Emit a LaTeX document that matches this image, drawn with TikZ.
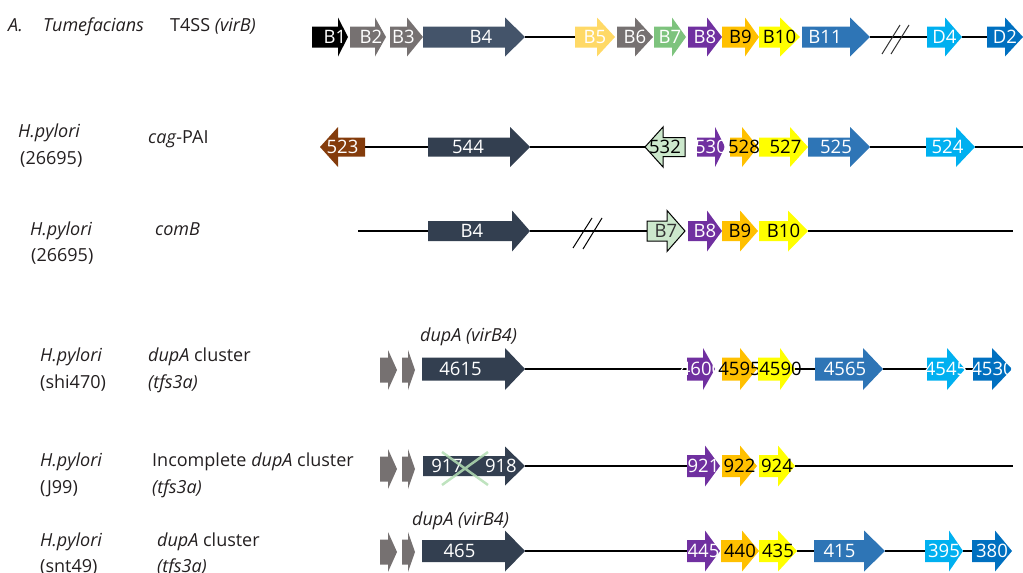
\documentclass[tikz,border=0pt]{standalone}
\usepackage{fontspec}
\setmainfont{Open Sans}
\usetikzlibrary{backgrounds}

\definecolor{cBlack}{HTML}{000000}
\definecolor{cGray}{HTML}{767171}
\definecolor{cNavyA}{HTML}{44546A}
\definecolor{cNavy}{HTML}{333F50}
\definecolor{cGold}{HTML}{FFD966}
\definecolor{cGreen}{HTML}{7DC37D}
\definecolor{cPurple}{HTML}{7030A0}
\definecolor{cOrange}{HTML}{FFC000}
\definecolor{cYellow}{HTML}{FFFF00}
\definecolor{cBlue}{HTML}{2E75B6}
\definecolor{cCyan}{HTML}{00B0F0}
\definecolor{cDeep}{HTML}{0070C0}
\definecolor{cBrown}{HTML}{843C0C}
\definecolor{cPale}{HTML}{CCE8CC}
\definecolor{cCross}{HTML}{B4DEB4}
\definecolor{cInk}{HTML}{231F20}

\newcommand\genefont{\fontsize{18.5}{22}\selectfont}
\newcommand\labelfont{\fontsize{18}{22}\selectfont}

\tikzset{
  geneframe/.style={inner sep=0pt, outer sep=0pt, draw=none},
  genelabel/.style={inner sep=0pt, font=\genefont},
  spine/.style={draw=black, line width=1.3pt},
  legend/.style={anchor=base west, inner sep=0pt, font=\labelfont, text=cInk},
  breakmark/.style={draw=black!80, line width=1pt},
  outlined/.style={fill=cPale, draw=black, line width=1pt},
}

% body and head half-heights of the gene arrows
\newcommand\gbh{10}
\newcommand\ghh{20}

% gene pointing right: name, start, head start, tip, y, fill style, label style, label
\newcommand\gener[8]{%
  \fill[#6] (#2,#5-\gbh) -- (#3,#5-\gbh) -- (#3,#5-\ghh) -- (#4,#5)
     -- (#3,#5+\ghh) -- (#3,#5+\gbh) -- (#2,#5+\gbh) -- cycle;
  \node[geneframe, minimum width={#4-#2}, minimum height={2*\ghh}] (#1) at ({(#2+#4)/2},#5) {};
  \node[genelabel,#7] (#1t) at (#1.center) {#8};
}
% gene pointing left: name, tip, head end, body end, y, fill style, label style, label
\newcommand\genel[8]{%
  \fill[#6] (#2,#5) -- (#3,#5-\ghh) -- (#3,#5-\gbh) -- (#4,#5-\gbh)
     -- (#4,#5+\gbh) -- (#3,#5+\gbh) -- (#3,#5+\ghh) -- cycle;
  \node[geneframe, minimum width={#4-#2}, minimum height={2*\ghh}] (#1) at ({(#2+#4)/2},#5) {};
  \node[genelabel,#7] (#1t) at (#1.center) {#8};
}

\begin{document}
\begin{tikzpicture}[x=1pt,y=-1pt]
\useasboundingbox (0,0) rectangle (1023,573);

% ---------------- organism / locus labels ----------------
\node[legend] (s1a) at (8,31) {\textit{A.}};
\node[legend] (s1b) at (43,31) {\textit{Tumefacians}};
\node[legend] (s1c) at (170,31) {T4SS \textit{(virB)}};

\node[legend] (s2a) at (18,137) {\textit{H.pylori}};
\node[legend] (s2b) at (20,164) {(26695)};
\node[legend] (s2c) at (148,143) {\textit{cag}-PAI};

\node[legend] (s3a) at (30,235) {\textit{H.pylori}};
\node[legend] (s3b) at (31,261) {(26695)};
\node[legend] (s3c) at (155,235) {\textit{comB}};

\node[legend] (s4a) at (40,361) {\textit{H.pylori}};
\node[legend] (s4b) at (40,388) {(shi470)};
\node[legend] (s4c) at (148,361) {\textit{dupA} cluster};
\node[legend] (s4d) at (148,388) {\textit{(tfs3a)}};
\node[legend] (s4e) at (420,341) {\textit{dupA (virB4)}};

\node[legend] (s5a) at (40,466) {\textit{H.pylori}};
\node[legend] (s5b) at (40,493) {(J99)};
\node[legend] (s5c) at (152,466) {Incomplete \textit{dupA} cluster};
\node[legend] (s5d) at (152,493) {\textit{(tfs3a)}};

\node[legend] (s6a) at (40,546) {\textit{H.pylori}};
\node[legend] (s6b) at (40,572) {(snt49)};
\node[legend] (s6c) at (157,546) {\textit{dupA} cluster};
\node[legend] (s6d) at (157,572) {\textit{(tfs3a)}};
\node[legend] (s6e) at (412,525) {\textit{dupA (virB4)}};

% ---------------- row 1: virB ----------------
\renewcommand\gbh{10.5}\renewcommand\ghh{19.5}
\gener{aB1}{312}{338}{348}{37}{cBlack}{text=white,xshift=5pt}{B1}
\gener{aB2}{350}{375}{386}{37}{cGray}{text=white,xshift=3pt}{B2}
\gener{aB3}{390}{407}{423}{37}{cGray}{text=white,xshift=-3pt}{B3}
\gener{aB4}{423}{505}{525}{37}{cNavyA}{text=white,xshift=7pt}{B4}
\gener{aB5}{575}{597}{615}{37}{cGold}{text=white}{B5}
\gener{aB6}{617}{635}{653}{37}{cGray}{text=white}{B6}
\gener{aB7}{654}{672}{686}{37}{cGreen}{text=white}{B7}
\gener{aB8}{688}{707}{722}{37}{cPurple}{text=white}{B8}
\gener{aB9}{722}{745}{759}{37}{cOrange}{text=black}{B9}
\gener{aB10}{759}{780}{800}{37}{cYellow}{text=black}{B10}
\gener{aB11}{802}{850}{870}{37}{cBlue}{text=white,xshift=-11pt}{B11}
\gener{aD4}{927}{945}{962}{37}{cCyan}{text=white}{D4}
\gener{aD2}{987}{1005}{1023}{37}{cDeep}{text=white}{D2}

% ---------------- row 2: cag-PAI ----------------
\renewcommand\gbh{9.5}\renewcommand\ghh{20}
\genel{b523}{320}{338}{365}{147}{cBrown}{text=white}{523}
\gener{b544}{428}{510}{530}{147}{cNavy}{text=white,xshift=-11pt}{544}
\genel{b532}{645}{663}{685}{147}{outlined}{text=black}{532}
\gener{b530}{697}{715}{725}{147}{cPurple}{text=white}{530}
\gener{b528}{730}{742}{758}{147}{cOrange}{text=black}{528}
\gener{b527}{759}{790}{808}{147}{cYellow}{text=black,xshift=2pt}{527}
\gener{b525}{808}{850}{870}{147}{cBlue}{text=white,xshift=-3pt}{525}
\gener{b524}{926}{956}{975}{147}{cCyan}{text=white,xshift=-3pt}{524}
\coordinate (b-end) at (1023,147);

% ---------------- row 3: comB ----------------
\renewcommand\gbh{10}\renewcommand\ghh{20.5}
\coordinate (c-start) at (358,231);
\gener{cB4}{428}{512}{530}{231}{cNavy}{text=white,xshift=-7pt}{B4}
\gener{cB7}{647}{667}{685}{231}{outlined}{text=black!80}{B7}
\gener{cB8}{688}{707}{722}{231}{cPurple}{text=white}{B8}
\gener{cB9}{722}{740}{758}{231}{cOrange}{text=black}{B9}
\gener{cB10}{759}{788}{808}{231}{cYellow}{text=black}{B10}
\coordinate (c-end) at (1013,231);

% ---------------- row 4: dupA cluster (shi470) ----------------
\renewcommand\gbh{12.5}\renewcommand\ghh{20}
\gener{dG1}{380}{388}{397}{370}{cGray}{}{}
\gener{dG2}{402}{408}{415}{370}{cGray}{}{}
\renewcommand\gbh{11.5}\renewcommand\ghh{21}
\gener{d4615}{422}{505}{525}{369}{cNavy}{text=white,xshift=-13pt}{4615}
\gener{d4600}{687}{703}{715}{369}{cPurple}{text=white}{4600}
\gener{d4595}{722}{740}{757}{369}{cOrange}{text=black}{4595}
\gener{d4590}{758}{780}{795}{369}{cYellow}{text=black,xshift=4pt}{4590}
\gener{d4565}{815}{863}{883}{369}{cBlue}{text=white,xshift=-4pt}{4565}
\gener{d4545}{927}{947}{965}{369}{cCyan}{text=white}{4545}
\gener{d4530}{973}{992}{1012}{369}{cDeep}{text=white}{4530}

% ---------------- row 5: incomplete cluster (J99) ----------------
\renewcommand\gbh{12.5}\renewcommand\ghh{20}
\gener{eG1}{380}{388}{397}{469}{cGray}{}{}
\gener{eG2}{402}{408}{415}{469}{cGray}{}{}
\renewcommand\gbh{10}\renewcommand\ghh{19.5}
\gener{e917}{423}{505}{525}{466}{cNavy}{text=white}{917\hspace{22pt}918}
\draw[draw=cCross, line width=2.5pt, opacity=0.85] (442,452) -- (488,485) (488,452) -- (442,485);
\renewcommand\gbh{11}\renewcommand\ghh{20.5}
\gener{e921}{687}{705}{720}{466}{cPurple}{text=white}{921}
\gener{e922}{722}{740}{757}{466}{cOrange}{text=black}{922}
\gener{e924}{759}{778}{795}{466}{cYellow}{text=black}{924}
\coordinate (e-end) at (1013,466);

% ---------------- row 6: dupA cluster (snt49) ----------------
\renewcommand\gbh{12.5}\renewcommand\ghh{20}
\gener{fG1}{380}{388}{397}{552}{cGray}{}{}
\gener{fG2}{402}{408}{415}{552}{cGray}{}{}
\renewcommand\gbh{11}\renewcommand\ghh{20.5}
\gener{f465}{422}{505}{525}{551}{cNavy}{text=white,xshift=-14pt}{465}
\gener{f445}{687}{705}{720}{551}{cPurple}{text=white}{445}
\gener{f440}{721}{742}{759}{551}{cOrange}{text=black}{440}
\gener{f435}{759}{778}{797}{551}{cYellow}{text=black}{435}
\gener{f415}{814}{864}{885}{551}{cBlue}{text=white,xshift=-10pt}{415}
\gener{f395}{925}{949}{963}{551}{cCyan}{text=white}{395}
\gener{f380}{972}{995}{1012}{551}{cDeep}{text=white}{380}

% ---------------- backbone lines ----------------
\begin{pgfonlayer}{background}
  \draw[spine, line width=1.8pt] (aB4.east) -- (aB5.west);
  \draw[spine, line width=1.8pt] (aB11.east) -- (aD4.west);
  \draw[spine, line width=1.8pt] (aD4.east) -- (aD2.west);

  \draw[spine] (b523.east) -- (b544.west);
  \draw[spine] (b544.east) -- (b532.west);
  \draw[spine] (b525.east) -- (b524.west);
  \draw[spine] (b524.east) -- (b-end);

  \draw[spine] (c-start) -- (cB4.west);
  \draw[spine] (cB4.east) -- (cB7.west);
  \draw[spine] (cB10.east) -- (c-end);

  \draw[spine] (d4615.east) -- (d4600.west);
  \draw[spine] (d4590.east) -- (d4565.west);
  \draw[spine] (d4565.east) -- (d4545.west);
  \draw[spine] (d4545.east) -- (d4530.west);

  \draw[spine] (e917.east) -- (e921.west);
  \draw[spine] (e924.east) -- (e-end);

  \draw[spine] (f465.east) -- (f445.west);
  \draw[spine] (f435.east) -- (f415.west);
  \draw[spine] (f415.east) -- (f395.west);
  \draw[spine] (f395.east) -- (f380.west);
\end{pgfonlayer}

% ---------------- break marks ----------------
\draw[breakmark] (882,54) -- (900,25) (891,54) -- (909,25);
\draw[breakmark, draw=black] (573,248) -- (592,218) (583,249) -- (602,218);

\end{tikzpicture}
\end{document}
